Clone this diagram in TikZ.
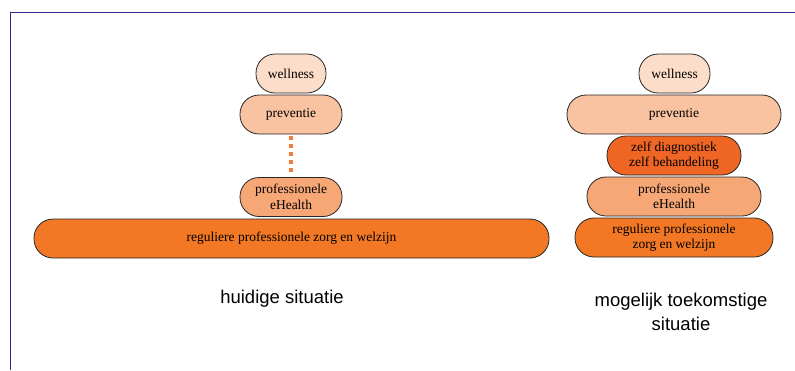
\documentclass[tikz,border=0pt]{standalone}
\usepackage{fontspec}
\setmainfont{Liberation Serif}
\newfontfamily\labelfont{Liberation Sans}
\definecolor{framblue}{HTML}{2E2B8C}
\definecolor{wellkl}{HTML}{FCDDC9}
\definecolor{prevkl}{HTML}{F9C2A0}
\definecolor{ehkl}{HTML}{F6A775}
\definecolor{zelfkl}{HTML}{EF6524}
\definecolor{regkl}{HTML}{F27825}
\definecolor{stipkl}{HTML}{F47B36}
\tikzset{
  laag/.style={draw=black!85, line width=0.8pt, rounded corners=19pt,
    minimum height=39pt, inner sep=0pt, align=center,
    font=\fontsize{13.5}{15.5}\selectfont},
  bijschrift/.style={font=\labelfont\fontsize{18.5}{24}\selectfont, align=center}
}
\begin{document}
\begin{tikzpicture}[x=1pt,y=-1pt]
   \useasboundingbox (0,0) rectangle (795,370);
   \draw[color=framblue, line width=0.8pt] (795,12) -- (10,12) -- (10,370);
   % huidige situatie
   \node[laag, fill=wellkl, minimum width=70pt] (w1) at (291,73.5) {wellness};
   \node[laag, fill=prevkl, minimum width=102pt] (p1) at (291,114.5) {preventie};
   \node[laag, fill=ehkl, minimum width=102pt] (e1) at (291,197) {professionele\\eHealth};
   \node[laag, fill=regkl, minimum width=515pt] (r1) at (291.5,238.5)
     {reguliere professionele zorg en welzijn};
   \draw[color=stipkl, line width=3.5pt, dash pattern=on 4pt off 4pt]
     ([yshift=-2pt]p1.south) -- ([yshift=2pt]e1.north);
   \node[bijschrift] (t1) at (282,299) {huidige situatie};
   % mogelijk toekomstige situatie
   \node[laag, fill=wellkl, minimum width=71pt] (w2) at (674.5,73.5) {wellness};
   \node[laag, fill=prevkl, minimum width=214pt] (p2) at (674,114.5) {preventie};
   \node[laag, fill=zelfkl, minimum width=134pt] (z2) at (674,155.5)
     {zelf diagnostiek\\zelf behandeling};
   \node[laag, fill=ehkl, minimum width=174pt] (e2) at (674,196.5) {professionele\\eHealth};
   \node[laag, fill=regkl, minimum width=198pt] (r2) at (674,237.5)
     {reguliere professionele\\zorg en welzijn};
   \node[bijschrift] (t2) at (681,312) {mogelijk toekomstige\\situatie};
\end{tikzpicture}
\end{document}
